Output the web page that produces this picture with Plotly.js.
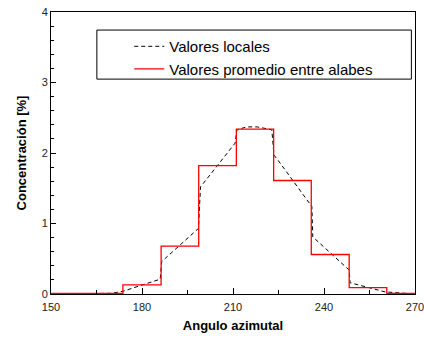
<!DOCTYPE html>
<html>
<head>
<meta charset="utf-8">
<script src="https://cdn.plot.ly/plotly-3.0.1.min.js"></script>
<style>html,body{margin:0;padding:0;background:#fff;}#chart{width:424px;height:341px;}</style>
</head>
<body>
<div id="chart"></div>
<script>
// Local values (dashed black)
var localAngle = [150, 160, 170, 173.8, 186.0, 186.5, 198.6, 199.3, 210.7, 211.3, 214.5, 218, 222.8, 223.5, 224.8, 236.0, 236.3, 248.3, 248.6, 260.1, 265, 270];
var localConc  = [0, 0, 0.01, 0.04, 0.21, 0.46, 0.93, 1.52, 2.14, 2.33, 2.37, 2.37, 2.33, 1.97, 1.90, 1.24, 0.81, 0.34, 0.16, 0.03, 0.01, 0];
// Averaged values between blades (red steps)
var stepEdges = [150, 173.7, 186.3, 198.7, 211.1, 223.4, 235.8, 248.3, 260.7, 270];
var stepConc  = [0.01, 0.13, 0.68, 1.82, 2.34, 1.61, 0.56, 0.09, 0.01, 0.01];
var xTicks = [150, 180, 210, 240, 270];
var yTicks = [0, 1, 2, 3, 4];
var seriesNames = ["Valores locales", "Valores promedio entre alabes"];

var traces = [
  {x: localAngle, y: localConc, mode: 'lines', name: seriesNames[0],
   line: {color: '#000000', width: 1, dash: '4px,3px'}},
  {x: stepEdges, y: stepConc, mode: 'lines', name: seriesNames[1],
   line: {color: '#ff0000', width: 1.3, shape: 'hv'}}
];

var layout = {
  width: 424, height: 341,
  margin: {l: 51, r: 9, t: 12, b: 47},
  paper_bgcolor: '#fff', plot_bgcolor: '#fff',
  font: {family: 'Liberation Sans, Arial, sans-serif', color: '#000'},
  showlegend: true,
  legend: {x: 0.215, y: 0.936, xanchor: 'left', yanchor: 'top',
    bgcolor: 'rgba(255,255,255,0)', borderwidth: 0,
    font: {size: 15, color: '#000'}, tracegroupgap: 0},
  shapes: [{type: 'rect', xref: 'paper', yref: 'paper',
    x0: 0.126, x1: 0.99, y0: 0.762, y1: 0.936,
    line: {color: '#000', width: 1}, fillcolor: 'rgba(0,0,0,0)'}],
  xaxis: {range: [150, 270], tickvals: xTicks, ticktext: xTicks.map(String),
    ticks: 'inside', ticklen: 6, tickcolor: '#000', tickwidth: 1,
    minor: {dtick: 15, ticks: 'inside', ticklen: 4, tickcolor: '#000'},
    showgrid: false, zeroline: false, showline: true, linecolor: '#000', linewidth: 1, mirror: true,
    tickfont: {size: 11, color: '#222'}, ticklabeloverflow: 'allow', ticklabelstandoff: 3,
    title: {text: '<b>Angulo azimutal</b>', font: {size: 13, color: '#000'}, standoff: 8}},
  yaxis: {range: [0, 4], tickvals: yTicks, ticktext: yTicks.map(String),
    ticks: 'inside', ticklen: 5, tickcolor: '#000', tickwidth: 1,
    minor: {dtick: 0.2, ticks: 'inside', ticklen: 3, tickcolor: '#000'},
    showgrid: false, zeroline: false, showline: true, linecolor: '#000', linewidth: 1, mirror: true,
    tickfont: {size: 11, color: '#222'}, ticklabeloverflow: 'allow',
    title: {text: '<b>Concentración [%]</b>', font: {size: 13, color: '#000'}, standoff: 12}}
};

Plotly.newPlot('chart', traces, layout, {displayModeBar: false, staticPlot: true});
</script>
</body>
</html>
